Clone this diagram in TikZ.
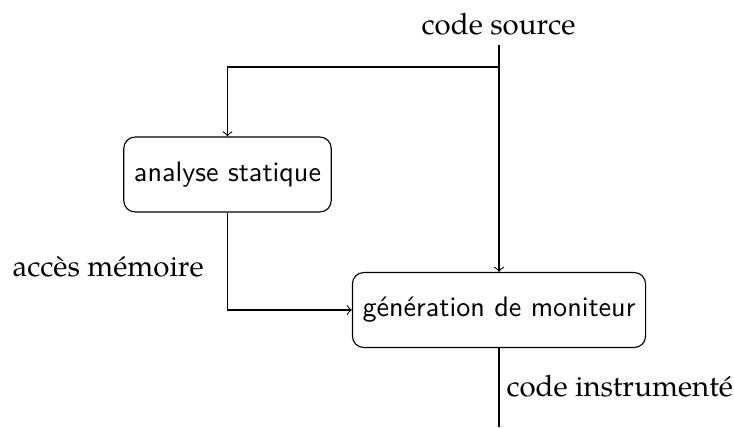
\documentclass[tikz,border=0pt]{standalone}
\usepackage{fontspec}
\setmainfont{TeX Gyre Pagella}
\usetikzlibrary{arrows}
\tikzset{
  stage/.style={draw, rounded corners=4pt, font=\sffamily, minimum height=26.6pt, inner xsep=3.6pt},
  flow/.style={->, thin},
  tag/.style={inner sep=0pt, anchor=base, font=\fontsize{10.45pt}{12.5pt}\selectfont}
}
\begin{document}
\begin{tikzpicture}[x=0.355pt, y=-0.355pt]
  \useasboundingbox (0,0) rectangle (734,427);
  % processing stages
  \node[stage] (ana) at (227.5,174.5) {analyse statique};
  \node[stage] (gen) at (499,310) {génération de moniteur};
  % free ends of the input and output lines
  \coordinate (src) at (499,45);
  \coordinate (split) at (499,67);
  \coordinate (out) at (499,427);
  % labels
  \node[tag] (lsrc) at (498.5,34) {code source};
  \node[tag, anchor=base west] (lmem) at (12,276) {accès mémoire};
  \node[tag, anchor=base west] (lout) at (506,396) {code instrumenté};
  % connectors
  \draw[flow] (src) -- (gen.north);
  \draw[flow] (split) -| (ana.north);
  \draw[flow] (ana.south) |- (gen.west);
  \draw (gen.south) -- (out);
\end{tikzpicture}
\end{document}
